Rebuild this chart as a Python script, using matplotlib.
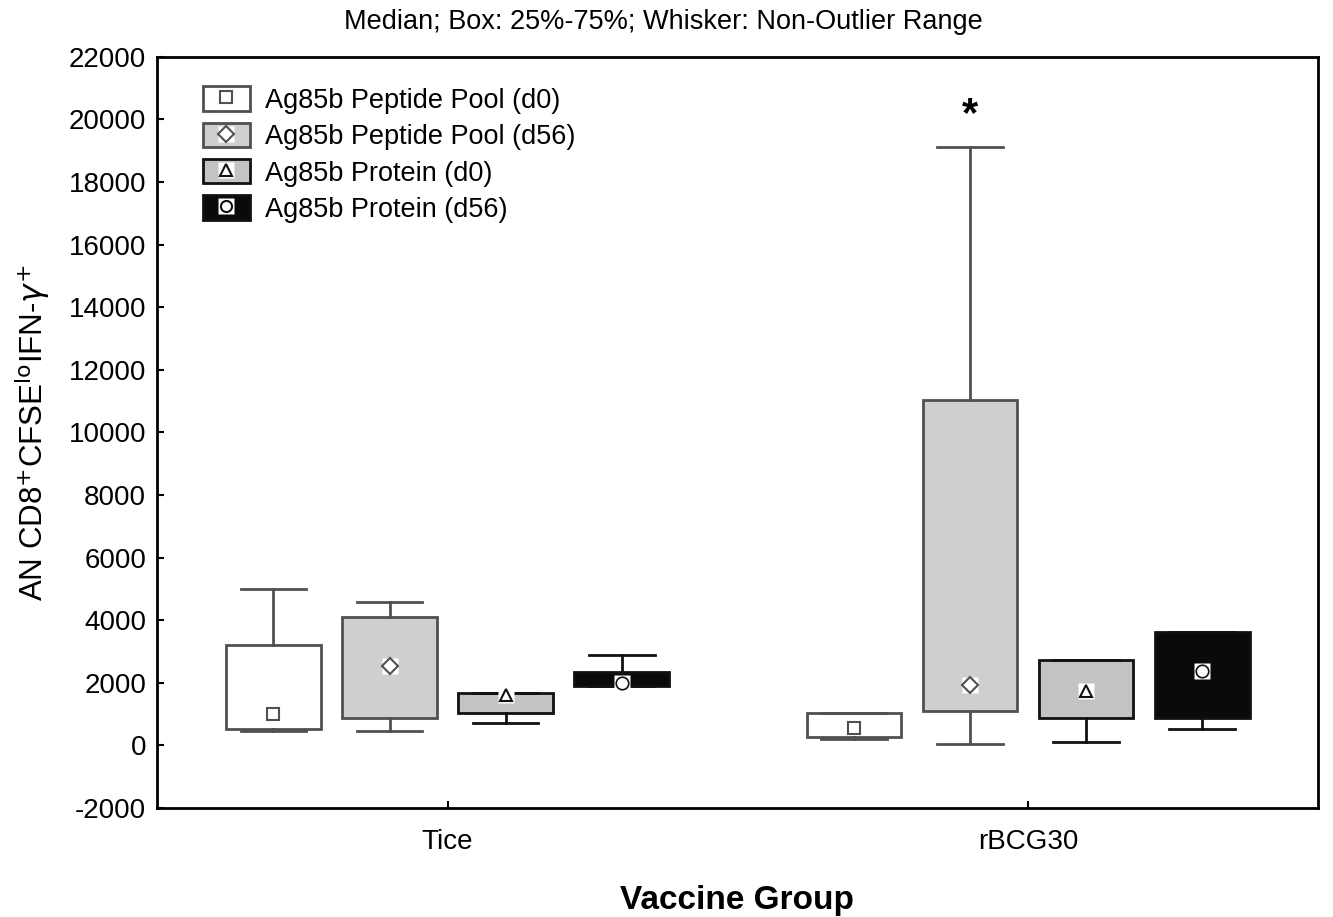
import matplotlib.pyplot as plt
from matplotlib.patches import Patch
from matplotlib.lines import Line2D

plt.rcParams['font.family'] = ['Liberation Sans', 'DejaVu Sans']
plt.rcParams['axes.unicode_minus'] = False

groups = ['Tice', 'rBCG30']
series = ['Ag85b Peptide Pool (d0)', 'Ag85b Peptide Pool (d56)',
          'Ag85b Protein (d0)', 'Ag85b Protein (d56)']

# per series: values for [Tice, rBCG30]
medians = [[1000, 540], [2520, 1940], [1600, 1750], [1980, 2390]]
q1 = [[530, 260], [860, 1080], [1020, 860], [1880, 860]]
q3 = [[3200, 1020], [4110, 11030], [1660, 2710], [2330, 3630]]
whis_lo = [[470, 190], [450, 30], [700, 100], [1880, 510]]
whis_hi = [[5000, 1020], [4590, 19120], [1660, 2710], [2870, 3630]]

face = ['white', '#cfcfcf', '#c3c3c3', '#0a0a0a']
edge = ['#505050', '#505050', '#111111', '#111111']
markers = ['s', 'D', '^', 'o']
offsets = [-0.3, -0.1, 0.1, 0.3]

fig = plt.figure(figsize=(13.33, 9.17), dpi=100)
ax = fig.add_axes([0.118, 0.119, 0.871, 0.819])

for i in range(4):
    stats = []
    for g in range(2):
        stats.append({'med': medians[i][g], 'q1': q1[i][g], 'q3': q3[i][g],
                      'whislo': whis_lo[i][g], 'whishi': whis_hi[i][g],
                      'fliers': []})
    pos = [g + offsets[i] for g in range(2)]
    ax.bxp(stats, positions=pos, widths=0.163, capwidths=0.113,
           patch_artist=True, showfliers=False,
           boxprops=dict(facecolor=face[i], edgecolor=edge[i], linewidth=2),
           whiskerprops=dict(color=edge[i], linewidth=2),
           capprops=dict(color=edge[i], linewidth=2),
           medianprops=dict(linewidth=0), manage_ticks=False)
    # median marker on a white background square
    if i > 0:
        ax.plot(pos, medians[i], 's', ms=12, mfc='white', mec='none', zorder=4)
    ax.plot(pos, medians[i], markers[i], ms=9 if i != 1 else 8,
            mfc='white', mec=edge[i], mew=1.5 if i != 3 else 1.2,
            linestyle='none', zorder=5)

ax.text(1 - 0.1, 19500, '*', ha='center', va='bottom', fontsize=30,
        fontweight='bold')

ax.set_xlim(-0.5, 1.5)
ax.set_ylim(-2000, 22000)
ax.set_yticks(range(-2000, 22001, 2000))
ax.set_xticks([0, 1])
ax.set_xticklabels(groups)
ax.tick_params(direction='in', length=5, width=1.5, labelsize=20, pad=8)
ax.tick_params(axis='x', pad=15)
for s in ax.spines.values():
    s.set_linewidth(2)

ax.set_ylabel('AN CD8$^{+}$CFSE$^{\\mathrm{lo}}$IFN-$\\gamma^{+}$',
              fontsize=22.5, labelpad=12)
fig.text(0.553, 0.018, 'Vaccine Group', fontsize=24, fontweight='bold',
         ha='center', va='center')
fig.suptitle('Median; Box: 25%-75%; Whisker: Non-Outlier Range',
             fontsize=19.5, x=0.498, y=0.99)

handles = []
for i in range(4):
    p = Patch(facecolor=face[i], edgecolor=edge[i], linewidth=2)
    bg = Line2D([], [], marker='s', ms=12, mfc='white', mec='none',
                linestyle='none')
    m = Line2D([], [], marker=markers[i], ms=8, mfc='white', mec=edge[i],
               mew=1.5, linestyle='none')
    handles.append((p, bg, m) if i > 0 else (p, m))
ax.legend(handles, series, loc='upper left', frameon=False, fontsize=19.5,
          handlelength=1.75, handleheight=1.0, labelspacing=0.33,
          handletextpad=0.55, bbox_to_anchor=(0.018, 0.993))

fig.savefig('out.png', dpi=100)
